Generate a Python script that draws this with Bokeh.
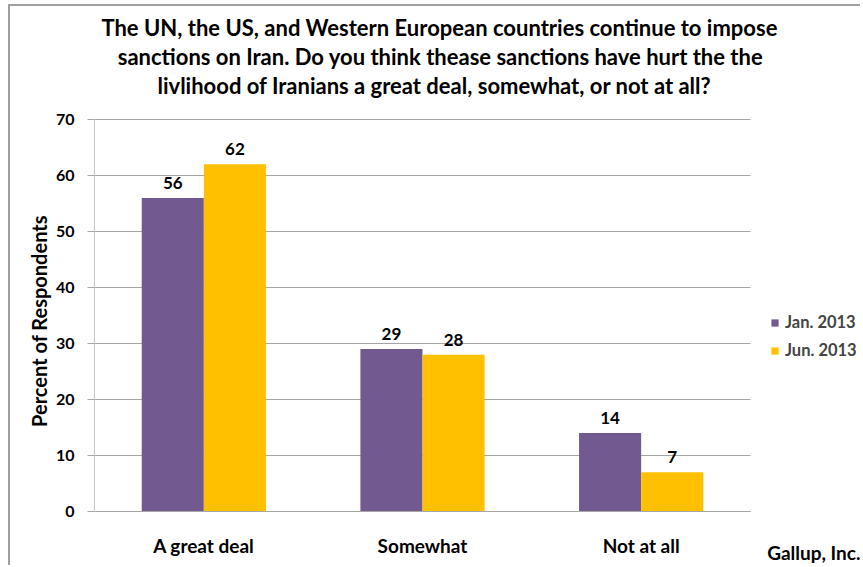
from bokeh.plotting import figure
from bokeh.models import ColumnDataSource, Legend, LegendItem, Range1d, FixedTicker, Label
from bokeh.transform import dodge
from bokeh.core.properties import value
from bokeh.embed import file_html
from bokeh.resources import INLINE

categories = ["A great deal", "Somewhat", "Not at all"]
jan_2013 = [56, 29, 14]
jun_2013 = [62, 28, 7]
series_names = ["Jan. 2013", "Jun. 2013"]
y_ticks = [0, 10, 20, 30, 40, 50, 60, 70]
y_title = "Percent of Respondents"
title_lines = [
    "The UN, the US, and Western European countries continue to impose",
    "sanctions on Iran. Do you think thease sanctions have hurt the the",
    "livlihood of Iranians a great deal, somewhat, or not at all?",
]
source_note = "Gallup, Inc."

FONT = "Lato"
PURPLE = "#725a90"
YELLOW = "#ffc000"
GRID = "#a6a6a6"

# ---- layout (pixels inside the canvas) ----
W, H = 852, 561
LEFT = 84                 # room for the y axis
PLOT_W = 656              # width of the bar area
PLOT_TOP, PLOT_BOTTOM = 113, 505   # y of value 70 and value 0 inside the canvas
n = len(categories)
px_x = PLOT_W / n
y_max = y_ticks[-1]
px_y = (PLOT_BOTTOM - PLOT_TOP) / y_max
x_end = (W - LEFT) / px_x
y_start = -(H - PLOT_BOTTOM) / px_y
y_end = y_max + PLOT_TOP / px_y

cat_x = [i + 0.5 for i in range(n)]
src = ColumnDataSource(dict(
    x=cat_x, jan=jan_2013, jun=jun_2013,
    jan_t=[str(v) for v in jan_2013], jun_t=[str(v) for v in jun_2013],
))

p = figure(width=W, height=H, x_range=Range1d(0, x_end), y_range=Range1d(y_start, y_end),
           output_backend="svg", toolbar_location=None,
           min_border_left=LEFT, min_border_right=0, min_border_top=0, min_border_bottom=0)
p.styles = {"margin-left": "8px", "margin-top": "4px",
            "border-left": "2px solid #a0a0a0", "border-top": "2px solid #a0a0a0"}
p.outline_line_color = None
p.title = None

bw = 0.284
r1 = p.vbar(x=dodge("x", -bw / 2), top="jan", width=bw, source=src,
            fill_color=PURPLE, line_color=None)
r2 = p.vbar(x=dodge("x", bw / 2), top="jun", width=bw, source=src,
            fill_color=YELLOW, line_color=None)

for col, tcol, off in (("jan", "jan_t", -bw / 2), ("jun", "jun_t", bw / 2)):
    p.text(x=dodge("x", off), y=col, text=tcol, source=src,
           text_align="center", text_baseline="bottom", y_offset=-9,
           text_font=value(FONT), text_font_style="bold", text_font_size="17px", text_color="black")

# y axis
p.yaxis.ticker = FixedTicker(ticks=y_ticks)
p.yaxis.bounds = (0, y_max)
p.yaxis.axis_line_color = "#c8c8c8"
p.yaxis.major_tick_line_color = GRID
p.yaxis.major_tick_out = 7
p.yaxis.major_tick_in = 0
p.yaxis.minor_tick_line_color = None
p.yaxis.major_label_standoff = 13
p.yaxis.major_label_text_font = FONT
p.yaxis.major_label_text_font_style = "bold"
p.yaxis.major_label_text_font_size = "16px"
p.yaxis.major_label_text_color = "black"
# the label is centred on the whole frame; pad its end so it sits centred on the 0-70 span
p.yaxis.axis_label = y_title + "\u00a0" * 14
p.yaxis.axis_label_text_font = FONT
p.yaxis.axis_label_text_font_style = "bold"
p.yaxis.axis_label_text_font_size = "20px"
p.yaxis.axis_label_text_color = "black"
p.yaxis.axis_label_standoff = 2

# x axis, pinned at value 0
p.xaxis.fixed_location = 0
p.xaxis.bounds = (0, n)
p.xaxis.ticker = FixedTicker(ticks=cat_x)
p.xaxis.major_label_overrides = {x: c for x, c in zip(cat_x, categories)}
p.xaxis.axis_line_color = GRID
p.xaxis.major_tick_line_color = None
p.xaxis.minor_tick_line_color = None
p.xaxis.major_label_standoff = 16
p.xaxis.major_label_text_font = FONT
p.xaxis.major_label_text_font_style = "bold"
p.xaxis.major_label_text_font_size = "19px"
p.xaxis.major_label_text_color = "black"

p.xgrid.grid_line_color = None
p.ygrid.grid_line_color = GRID
p.ygrid.grid_line_width = 1
p.ygrid.cross_bounds = (0, n)

# legend
legend = Legend(items=[LegendItem(label=series_names[0], renderers=[r1]),
                       LegendItem(label=series_names[1], renderers=[r2])],
                location=(676, 207), orientation="vertical",
                glyph_width=9, glyph_height=9, label_height=20, spacing=8,
                label_text_font=FONT, label_text_font_style="bold", label_text_font_size="16.5px",
                label_standoff=6, padding=2, margin=0, border_line_color=None,
                background_fill_alpha=0)
p.add_layout(legend, "center")

# title lines (pixel centres measured from the canvas top-left)
title_centres = [(429, 21), (430, 50), (424, 79)]
for line, (cx, cy) in zip(title_lines, title_centres):
    p.add_layout(Label(x=(cx - LEFT) / px_x, y=(PLOT_BOTTOM - cy) / px_y, text=line,
                       text_align="center", text_baseline="middle",
                       text_font=FONT, text_font_style="bold", text_font_size="22px",
                       text_color="black"))

p.add_layout(Label(x=(850 - LEFT) / px_x, y=(PLOT_BOTTOM - 546) / px_y, text=source_note,
                   text_align="right", text_baseline="middle",
                   text_font=FONT, text_font_style="bold", text_font_size="19px",
                   text_color="black"))

open("out.html", "w").write(file_html(p, INLINE))
